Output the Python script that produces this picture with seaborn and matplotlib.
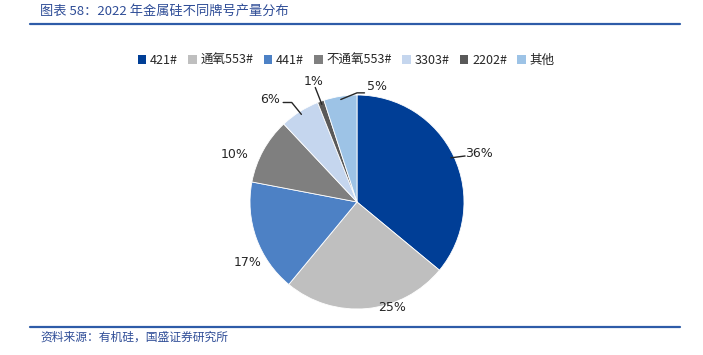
import numpy as np
import seaborn as sns
import matplotlib.pyplot as plt
from matplotlib.lines import Line2D
from matplotlib.patches import Patch

sns.set_theme(style="white")
plt.rcParams['font.family'] = ['Noto Sans CJK SC', 'DejaVu Sans']

# data
grades = ["421#", "通氧553#", "441#", "不通氧553#", "3303#", "2202#", "其他"]
shares = [36, 25, 17, 10, 6, 1, 5]
colors = ["#003E96", "#BFBFBF", "#4D81C5", "#7F7F7F", "#C5D6EE", "#595959", "#9DC3E6"]

# label text positions (data units, pie radius = 1)
label_pos = [(1.14, 0.45), (0.33, -0.99), (-1.02, -0.57), (-1.14, 0.44),
             (-0.81, 0.96), (-0.41, 1.13), (0.19, 1.08)]
# leader line bends after the wedge edge point (None = no leader)
leaders = [[(1.01, 0.43)], None, None, None,
           [(-0.61, 0.93), (-0.69, 0.93)],
           [(-0.39, 1.07)],
           [(0.0, 1.02), (0.07, 1.02)]]

W, H = 703, 355
fig = plt.figure(figsize=(W / 100, H / 100), dpi=100)

# pie axes: centre at (357, 202) px, radius 107 px
r_px = 107
left, right, top, bottom = 207, 507, 72, 332
ax = fig.add_axes([left / W, (H - bottom) / H, (right - left) / W, (bottom - top) / H])
wedges, _ = ax.pie(shares, colors=colors, startangle=90, counterclock=False,
                   wedgeprops=dict(edgecolor="white", linewidth=0.6))
ax.set_aspect("auto")
ax.set_xlim(-(357 - left) / r_px, (right - 357) / r_px)
ax.set_ylim(-(bottom - 202) / r_px, (202 - top) / r_px)
ax.axis("off")

for w, v, (tx, ty), ld in zip(wedges, shares, label_pos, leaders):
    ax.text(tx, ty, f"{v}%", ha="center", va="center", fontsize=9,
            color="#262626", clip_on=False, family=["DejaVu Sans"])
    if ld:
        ang = np.deg2rad((w.theta1 + w.theta2) / 2)
        pts = [(0.97 * np.cos(ang), 0.97 * np.sin(ang))] + ld
        xs, ys = zip(*pts)
        ax.plot(xs, ys, color="#262626", lw=1, clip_on=False)

# legend
handles = [Patch(facecolor=c, edgecolor="none") for c in colors]
fig.legend(handles, grades, loc="center", bbox_to_anchor=(346 / W, 1 - 60 / H), ncol=7,
           frameon=False, fontsize=9, handlelength=0.7, handleheight=0.7,
           handletextpad=0.3, columnspacing=0.8)

# title, rules, source
blue = "#2F4D97"
fig.text(40 / W, 1 - 11 / H, "图表 58：2022 年金属硅不同牌号产量分布", fontsize=9.5,
         color=blue, style="italic", va="center", ha="left")
fig.add_artist(Line2D([30 / W, 680 / W], [1 - 24 / H] * 2, color="#2E5CA8", lw=1.6))
fig.add_artist(Line2D([30 / W, 680 / W], [1 - 327 / H] * 2, color="#2E5CA8", lw=1.6))
fig.text(40 / W, 1 - 337 / H, "资料来源：有机硅，国盛证券研究所", fontsize=8.5,
         color=blue, style="italic", va="center", ha="left")

fig.savefig("out.png", dpi=100)
